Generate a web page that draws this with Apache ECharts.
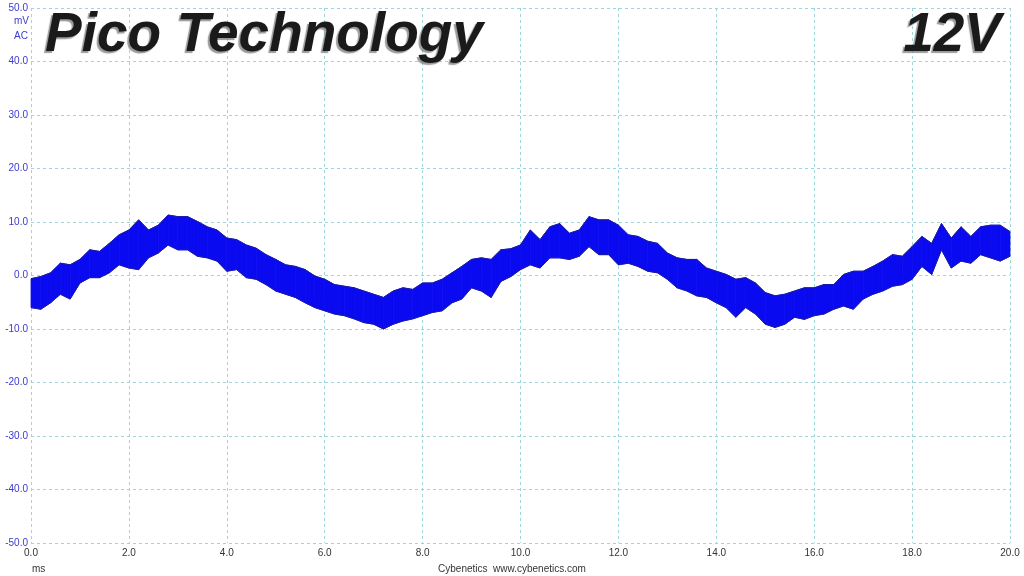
<!DOCTYPE html>
<html>
<head>
<meta charset="utf-8">
<script src="https://cdn.jsdelivr.net/npm/echarts@6/dist/echarts.min.js"></script>
<style>
  html, body { margin: 0; padding: 0; background: #fff; }
  #scope { width: 1024px; height: 576px; }
</style>
</head>
<body>
<div id="scope"></div>
<script>
// 包络线（mV），每 0.2 ms 一个采样
const upper = [
  -0.6, -0.2, 0.5, 2.3, 2.0, 3.0, 4.8, 4.5, 6.0, 7.6,
  8.5, 10.4, 8.5, 9.4, 11.3, 11.0, 11.0, 10.1, 9.1, 8.5,
  7.0, 6.7, 5.7, 5.1, 3.9, 3.0, 2.0, 1.7, 1.1, -0.1,
  -0.7, -1.7, -2.0, -2.3, -2.9, -3.5, -4.1, -2.9, -2.3, -2.6,
  -1.4, -1.4, -0.7, 0.5, 1.7, 3.0, 3.3, 3.0, 4.8, 5.0,
  5.7, 8.5, 6.7, 9.1, 9.7, 7.9, 8.5, 11.0, 10.4, 10.4,
  9.4, 7.6, 7.3, 6.4, 6.0, 4.2, 3.3, 3.0, 3.0, 1.4,
  0.8, 0.2, -0.7, -0.4, -1.4, -3.2, -3.8, -3.5, -2.9, -2.3,
  -2.3, -1.7, -1.7, 0.2, 0.8, 0.8, 1.7, 2.7, 3.9, 3.6,
  5.4, 7.3, 6.0, 9.7, 7.0, 9.1, 7.3, 9.1, 9.4, 9.4,
  8.2
]
const lower = [
  -6.0, -6.3, -5.1, -3.5, -4.4, -1.4, -0.4, -0.4, 0.5, 2.0,
  1.4, 1.1, 3.3, 4.2, 5.7, 4.8, 4.8, 3.6, 3.3, 2.7,
  0.8, 1.1, -0.4, -0.7, -1.7, -2.9, -3.5, -4.1, -5.1, -6.0,
  -6.6, -7.2, -7.5, -8.1, -8.8, -9.1, -10.0, -9.1, -8.5, -8.1,
  -7.5, -6.9, -6.6, -5.1, -4.4, -2.3, -2.9, -4.1, -1.1, -0.2,
  1.1, 2.0, 1.4, 3.3, 3.3, 3.0, 3.6, 5.4, 3.9, 3.9,
  2.0, 2.3, 1.7, 0.8, 0.5, -0.7, -2.3, -2.9, -3.8, -4.1,
  -5.1, -6.0, -7.8, -6.0, -7.2, -9.1, -9.7, -9.1, -7.8, -8.2,
  -7.5, -7.2, -6.3, -5.7, -6.3, -4.4, -3.5, -2.9, -2.0, -1.7,
  -0.7, 1.7, 0.2, 4.8, 1.4, 2.7, 2.3, 3.9, 3.3, 2.7,
  3.6
]
const sampleStep = 0.2 // ms
const times = upper.map((_, i) => +(i * sampleStep).toFixed(1))

const chart = echarts.init(document.getElementById('scope'))
const gridLine = { color: '#9fd4d8', type: [3, 3], width: 1 }
const labelFont = 'Liberation Sans, Arial, sans-serif'
const traceFill = '#0a0af0'
const traceEdge = '#1a1aa0'
const titleStyle = {
  fontFamily: labelFont, fontStyle: 'italic', fontWeight: 'bold', fontSize: 55,
  color: '#1a1a1a',
  textShadowColor: 'rgba(120,120,120,0.75)', textShadowBlur: 1,
  textShadowOffsetX: -2, textShadowOffsetY: 2
}

const option = {
  backgroundColor: '#fff',
  animation: false,
  grid: { left: 31, right: 14, top: 8, bottom: 33 },
  title: [
    { text: 'Pico Technology', left: 40, top: 3, textStyle: titleStyle },
    { text: '12V', right: 18, top: 3, textStyle: titleStyle }
  ],
  graphic: [
    { type: 'text', right: 995, top: 16, style: { text: 'mV', fill: '#3a3ad0', font: '10px ' + labelFont, align: 'right' } },
    { type: 'text', right: 996, top: 31, style: { text: 'AC', fill: '#3a3ad0', font: '10px ' + labelFont, align: 'right' } },
    { type: 'text', left: 32, top: 564, style: { text: 'ms', fill: '#333', font: '10px ' + labelFont } },
    { type: 'text', left: 'center', top: 564, style: { text: 'Cybenetics  www.cybenetics.com', fill: '#333', font: '10px ' + labelFont } }
  ],
  xAxis: {
    type: 'value',
    min: 0, max: 20, interval: 2,
    axisLine: { show: false },
    axisTick: { show: false },
    axisLabel: {
      color: '#333', fontSize: 10, fontFamily: labelFont, margin: 5,
      formatter: v => v.toFixed(1)
    },
    splitLine: { show: true, lineStyle: gridLine }
  },
  yAxis: {
    type: 'value',
    min: -50, max: 50, interval: 10,
    axisLine: { show: false },
    axisTick: { show: false },
    axisLabel: {
      color: '#3a3ad0', fontSize: 10, fontFamily: labelFont, margin: 3,
      formatter: v => v.toFixed(1)
    },
    splitLine: { show: true, lineStyle: gridLine }
  },
  series: [{
    // 上下包络之间的填充带
    name: 'band',
    type: 'custom',
    data: times.map((t, i) => [t, lower[i], upper[i]]),
    renderItem: function (params, api) {
      const i = params.dataIndex
      if (i >= times.length - 1) return
      const pts = [
        api.coord([times[i], upper[i]]),
        api.coord([times[i + 1], upper[i + 1]]),
        api.coord([times[i + 1], lower[i + 1]]),
        api.coord([times[i], lower[i]])
      ]
      return {
        type: 'polygon',
        shape: { points: pts },
        style: { fill: traceFill, stroke: traceFill, lineWidth: 0.8 }
      }
    },
    z: 2
  }, {
    name: 'upper',
    type: 'line',
    symbol: 'none',
    data: times.map((t, i) => [t, upper[i]]),
    lineStyle: { color: traceEdge, width: 1 },
    z: 3
  }, {
    name: 'lower',
    type: 'line',
    symbol: 'none',
    data: times.map((t, i) => [t, lower[i]]),
    lineStyle: { color: traceEdge, width: 1 },
    z: 3
  }]
}
chart.setOption(option)
</script>
</body>
</html>
